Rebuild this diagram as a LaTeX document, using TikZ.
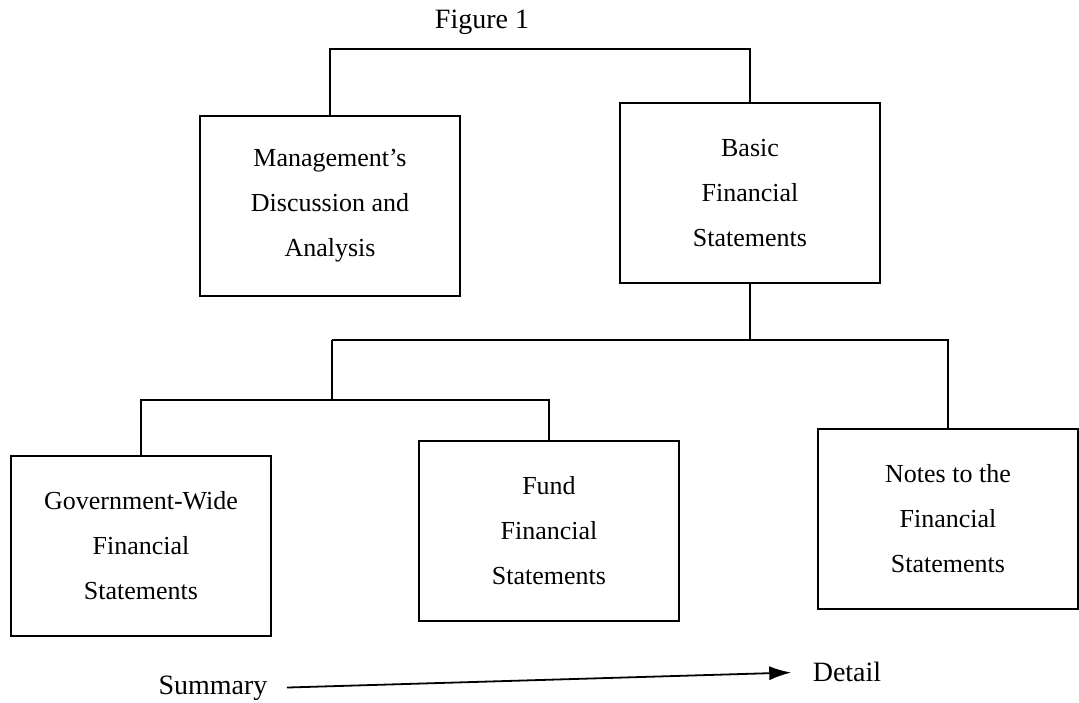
\documentclass[tikz,border=0pt]{standalone}
\usepackage{fontspec}
\setmainfont{Liberation Serif}
\usetikzlibrary{arrows.meta}
\begin{document}
\begin{tikzpicture}[x=1pt,y=-1pt,
	box/.style={draw,line width=1.6pt,minimum width=260pt,minimum height=180pt,align=center,font=\fontsize{26}{45}\selectfont},
	lbl/.style={font=\fontsize{28}{32}\selectfont},
	link/.style={line width=1.1pt}]
	\useasboundingbox (0,0) rectangle (1079,702);
	\node[lbl] (fig) at (482,22) {Figure 1};
	\node[box] (mda) at (330,206) {Management's\\Discussion and\\Analysis};
	\node[box] (bfs) at (750,193) {Basic\\Financial\\Statements};
	\node[box] (gw) at (141,546) {Government-Wide\\Financial\\Statements};
	\node[box] (fund) at (549,531) {Fund\\Financial\\Statements};
	\node[box] (notes) at (948,519) {Notes to the\\Financial\\Statements};
	\coordinate (top) at (500,49);
	\coordinate (mid) at (332,340);
	\coordinate (sub) at (332,400);
	\draw[link] (mda.north) |- (top) -| (bfs.north);
	\draw[link] (bfs.south) -- (bfs.south |- mid);
	\draw[link] (mid) -| (notes.north);
	\draw[link] (mid) -- (sub);
	\draw[link] (gw.north) |- (sub) -| (fund.north);
	\node[lbl] (sum) at (213,688) {Summary};
	\node[lbl] (det) at (847,672) {Detail};
	\draw[line width=1.8pt,-{Latex[length=22pt,width=14pt]},shorten <=16pt,shorten >=18pt] (sum.east) -- (det.west);
\end{tikzpicture}
\end{document}
